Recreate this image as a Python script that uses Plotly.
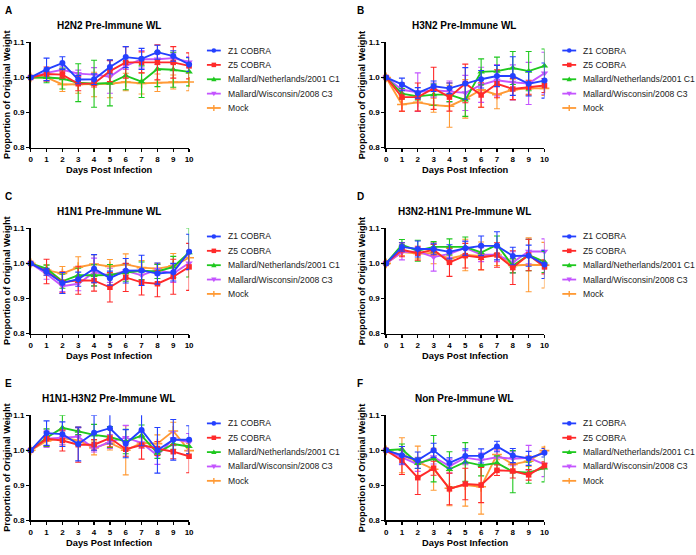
import plotly.graph_objects as go

W, H = 696, 555

DAYS = [0, 1, 2, 3, 4, 5, 6, 7, 8, 9, 10]
SERIES = ["Z1 COBRA", "Z5 COBRA", "Mallard/Netherlands/2001 C1",
          "Mallard/Wisconsin/2008 C3", "Mock"]
PANEL_TITLES = ["H2N2 Pre-Immune WL", "H3N2 Pre-Immune WL", "H1N1 Pre-Immune WL",
                "H3N2-H1N1 Pre-Immune WL", "H1N1-H3N2 Pre-Immune WL", "Non Pre-Immune WL"]
PANEL_LETTERS = ["A", "B", "C", "D", "E", "F"]
Y_TICKS = [0.8, 0.9, 1.0, 1.1]
Y_TICK_LABELS = ["0.8", "0.9", "1.0", "1.1"]
X_TICK_LABELS = ["0", "1", "2", "3", "4", "5", "6", "7", "8", "9", "10"]
X_TITLE = "Days Post Infection"
Y_TITLE = "Proportion of Original Weight"

# ---- Panel A: H2N2 ----
A_Z1 = [1.0, 1.023, 1.041, 0.994, 0.995, 1.030, 1.058, 1.053, 1.072, 1.061, 1.037]
A_Z1_ERR = [0, 0.032, 0.018, 0.012, 0.015, 0.020, 0.030, 0.030, 0.020, 0.015, 0.020]
A_Z5 = [1.0, 1.010, 1.008, 0.982, 0.983, 1.018, 1.043, 1.043, 1.043, 1.043, 1.033]
A_Z5_ERR = [0, 0.020, 0.010, 0.020, 0.010, 0.030, 0.045, 0.030, 0.050, 0.045, 0.037]
A_NL = [1.0, 1.000, 0.997, 0.985, 0.982, 0.984, 1.005, 0.988, 1.024, 1.022, 1.016]
A_NL_ERR = [0, 0.015, 0.030, 0.054, 0.067, 0.065, 0.040, 0.045, 0.050, 0.050, 0.040]
A_WI = [1.0, 1.013, 1.022, 1.011, 1.008, 1.002, 1.033, 1.052, 1.052, 1.055, 1.044]
A_WI_ERR = [0, 0.010, 0.010, 0.010, 0.020, 0.047, 0.010, 0.025, 0.015, 0.015, 0.015]
A_MOCK = [1.0, 1.000, 0.980, 0.980, 0.980, 0.982, 0.987, 0.983, 0.985, 0.987, 0.987]
A_MOCK_ERR = [0, 0.010, 0.020, 0.025, 0.035, 0.040, 0.025, 0.030, 0.025, 0.020, 0.025]

# ---- Panel B: H3N2 ----
B_Z1 = [1.0, 0.980, 0.956, 0.975, 0.969, 0.983, 0.995, 1.004, 1.004, 0.982, 0.991]
B_Z1_ERR = [0, 0.018, 0.015, 0.015, 0.015, 0.045, 0.025, 0.030, 0.055, 0.035, 0.050]
B_Z5 = [1.0, 0.944, 0.944, 0.969, 0.944, 0.983, 0.950, 0.982, 0.967, 0.972, 0.977]
B_Z5_ERR = [0, 0.040, 0.040, 0.060, 0.040, 0.055, 0.035, 0.040, 0.030, 0.020, 0.020]
B_NL = [1.0, 0.954, 0.946, 0.951, 0.951, 0.936, 1.016, 1.018, 1.027, 1.018, 1.033]
B_NL_ERR = [0, 0.015, 0.010, 0.030, 0.020, 0.047, 0.037, 0.040, 0.047, 0.056, 0.048]
B_WI = [1.0, 0.965, 0.958, 0.964, 0.960, 0.956, 0.979, 0.992, 0.986, 0.983, 1.012]
B_WI_ERR = [0, 0.010, 0.055, 0.020, 0.030, 0.050, 0.050, 0.045, 0.050, 0.060, 0.060]
B_MOCK = [1.0, 0.923, 0.929, 0.921, 0.918, 0.939, 0.965, 0.951, 0.965, 0.969, 0.969]
B_MOCK_ERR = [0, 0.020, 0.025, 0.020, 0.060, 0.055, 0.050, 0.040, 0.030, 0.020, 0.020]

# ---- Panel C: H1N1 ----
C_Z1 = [1.0, 0.976, 0.944, 0.955, 0.985, 0.958, 0.979, 0.980, 0.971, 0.975, 1.033]
C_Z1_ERR = [0, 0.010, 0.030, 0.020, 0.040, 0.020, 0.035, 0.043, 0.030, 0.025, 0.050]
C_Z5 = [1.0, 0.977, 0.946, 0.952, 0.951, 0.932, 0.960, 0.946, 0.942, 0.962, 0.990]
C_Z5_ERR = [0, 0.035, 0.030, 0.040, 0.030, 0.042, 0.040, 0.036, 0.037, 0.050, 0.067]
C_NL = [1.0, 0.985, 0.949, 0.966, 0.966, 0.967, 0.974, 0.979, 0.977, 0.990, 1.031]
C_NL_ERR = [0, 0.010, 0.020, 0.020, 0.030, 0.030, 0.025, 0.025, 0.020, 0.030, 0.070]
C_WI = [1.0, 0.970, 0.935, 0.942, 0.975, 0.966, 0.979, 0.966, 0.982, 0.971, 1.001]
C_WI_ERR = [0, 0.015, 0.015, 0.020, 0.040, 0.020, 0.020, 0.015, 0.015, 0.025, 0.020]
C_MOCK = [1.0, 0.981, 0.971, 0.989, 0.998, 0.991, 0.997, 0.988, 0.985, 0.993, 1.016]
C_MOCK_ERR = [0, 0.015, 0.020, 0.030, 0.027, 0.020, 0.030, 0.020, 0.015, 0.035, 0.020]

# ---- Panel D: H3N2-H1N1 ----
D_Z1 = [1.0, 1.047, 1.041, 1.041, 1.033, 1.043, 1.050, 1.050, 1.021, 1.022, 0.997]
D_Z1_ERR = [0, 0.012, 0.023, 0.015, 0.020, 0.020, 0.028, 0.040, 0.025, 0.030, 0.040]
D_Z5 = [1.0, 1.039, 1.029, 1.039, 1.003, 1.022, 1.017, 1.024, 0.988, 1.024, 0.990]
D_Z5_ERR = [0, 0.020, 0.020, 0.015, 0.040, 0.035, 0.035, 0.035, 0.048, 0.045, 0.020]
D_NL = [1.0, 1.053, 1.036, 1.047, 1.047, 1.047, 1.031, 1.053, 0.993, 1.024, 1.004]
D_NL_ERR = [0, 0.015, 0.030, 0.015, 0.023, 0.028, 0.020, 0.025, 0.020, 0.045, 0.030]
D_WI = [1.0, 1.032, 1.034, 1.018, 1.027, 1.044, 1.025, 1.025, 1.003, 1.034, 1.034]
D_WI_ERR = [0, 0.022, 0.010, 0.040, 0.010, 0.020, 0.020, 0.020, 0.030, 0.035, 0.036]
D_MOCK = [1.0, 1.032, 1.028, 1.029, 1.014, 1.024, 1.021, 1.024, 0.994, 0.996, 0.995]
D_MOCK_ERR = [0, 0.010, 0.015, 0.030, 0.010, 0.045, 0.040, 0.030, 0.020, 0.077, 0.065]

# ---- Panel E: H1N1-H3N2 ----
E_Z1 = [1.0, 1.049, 1.046, 1.018, 1.050, 1.063, 1.019, 1.058, 1.000, 1.030, 1.030]
E_Z1_ERR = [0, 0.035, 0.035, 0.048, 0.050, 0.045, 0.040, 0.045, 0.065, 0.058, 0.040]
E_Z5 = [1.0, 1.033, 1.028, 1.016, 1.016, 1.035, 1.003, 1.015, 1.005, 0.996, 0.983]
E_Z5_ERR = [0, 0.020, 0.030, 0.050, 0.015, 0.025, 0.020, 0.040, 0.020, 0.020, 0.047]
E_NL = [1.0, 1.036, 1.064, 1.055, 1.044, 1.038, 1.025, 1.042, 0.992, 1.018, 1.011]
E_NL_ERR = [0, 0.025, 0.036, 0.010, 0.030, 0.030, 0.035, 0.030, 0.015, 0.015, 0.020]
E_WI = [1.0, 1.033, 1.036, 1.039, 1.005, 1.025, 1.036, 1.021, 0.985, 1.033, 1.023]
E_WI_ERR = [0, 0.025, 0.020, 0.025, 0.010, 0.020, 0.035, 0.015, 0.025, 0.020, 0.025]
E_MOCK = [1.0, 1.027, 1.035, 1.028, 1.007, 1.021, 1.000, 1.021, 1.019, 1.055, 0.999]
E_MOCK_ERR = [0, 0.015, 0.020, 0.015, 0.020, 0.020, 0.070, 0.015, 0.025, 0.025, 0.020]

# ---- Panel F: Non Pre-Immune ----
F_Z1 = [1.0, 0.986, 0.972, 1.000, 0.964, 0.984, 0.984, 1.011, 0.985, 0.977, 0.993]
F_Z1_ERR = [0, 0.025, 0.023, 0.020, 0.015, 0.020, 0.020, 0.015, 0.020, 0.020, 0.012]
F_Z5 = [1.0, 0.971, 0.922, 0.949, 0.890, 0.904, 0.901, 0.943, 0.941, 0.930, 0.957]
F_Z5_ERR = [0, 0.040, 0.048, 0.020, 0.045, 0.045, 0.050, 0.015, 0.020, 0.015, 0.010]
F_NL = [1.0, 1.003, 0.963, 0.976, 0.946, 0.967, 0.957, 0.964, 0.939, 0.936, 0.950]
F_NL_ERR = [0, 0.015, 0.015, 0.066, 0.050, 0.055, 0.030, 0.020, 0.060, 0.030, 0.040]
F_WI = [1.0, 0.979, 0.960, 0.981, 0.955, 0.979, 0.972, 0.980, 0.976, 0.979, 0.960]
F_WI_ERR = [0, 0.020, 0.020, 0.020, 0.020, 0.020, 0.020, 0.020, 0.020, 0.035, 0.035]
F_MOCK = [1.0, 0.986, 0.967, 0.946, 0.892, 0.901, 0.896, 0.988, 0.960, 0.969, 0.999]
F_MOCK_ERR = [0, 0.050, 0.045, 0.060, 0.050, 0.060, 0.078, 0.015, 0.020, 0.015, 0.010]

PANELS = [
    [(A_Z1, A_Z1_ERR), (A_Z5, A_Z5_ERR), (A_NL, A_NL_ERR), (A_WI, A_WI_ERR), (A_MOCK, A_MOCK_ERR)],
    [(B_Z1, B_Z1_ERR), (B_Z5, B_Z5_ERR), (B_NL, B_NL_ERR), (B_WI, B_WI_ERR), (B_MOCK, B_MOCK_ERR)],
    [(C_Z1, C_Z1_ERR), (C_Z5, C_Z5_ERR), (C_NL, C_NL_ERR), (C_WI, C_WI_ERR), (C_MOCK, C_MOCK_ERR)],
    [(D_Z1, D_Z1_ERR), (D_Z5, D_Z5_ERR), (D_NL, D_NL_ERR), (D_WI, D_WI_ERR), (D_MOCK, D_MOCK_ERR)],
    [(E_Z1, E_Z1_ERR), (E_Z5, E_Z5_ERR), (E_NL, E_NL_ERR), (E_WI, E_WI_ERR), (E_MOCK, E_MOCK_ERR)],
    [(F_Z1, F_Z1_ERR), (F_Z5, F_Z5_ERR), (F_NL, F_NL_ERR), (F_WI, F_WI_ERR), (F_MOCK, F_MOCK_ERR)],
]

# ---- styling ----
COLORS = ["#2440ff", "#ff2a2a", "#1fc81f", "#c455ff", "#ff9a35"]
SYMBOLS = ["circle", "square", "triangle-up", "triangle-down", "cross-thin"]
MSIZES = [6, 5.5, 6.5, 6.5, 7]
FONT = "Arial, Liberation Sans, sans-serif"

# panel geometry in pixels (axes box)
COL_X = [(29, 189), (388, 548)]
ROW_Y = [(39, 146), (228, 335), (418, 525)]


def px(x):
    return x / W


def py(y):
    return 1 - y / H


fig = go.Figure()
shapes = []
annotations = []

for p in range(6):
    col, row = p % 2, p // 2
    x0, x1 = COL_X[col]
    y0, y1 = ROW_Y[row]
    xa = "x" if p == 0 else f"x{p + 1}"
    ya = "y" if p == 0 else f"y{p + 1}"
    xkey = "xaxis" if p == 0 else f"xaxis{p + 1}"
    ykey = "yaxis" if p == 0 else f"yaxis{p + 1}"

    # traces drawn Mock first, Z1 last (Z1 on top)
    for s in reversed(range(5)):
        vals, err = PANELS[p][s]
        mk = dict(symbol=SYMBOLS[s], size=MSIZES[s], color=COLORS[s])
        if SYMBOLS[s] == "cross-thin":
            mk["line"] = dict(color=COLORS[s], width=1.6)
        else:
            mk["line"] = dict(width=0)
        fig.add_trace(go.Scatter(
            x=DAYS, y=vals, name=SERIES[s], mode="lines+markers",
            line=dict(color=COLORS[s], width=1.9),
            marker=mk,
            error_y=dict(type="data", array=err, visible=True,
                         color=COLORS[s], thickness=1.1, width=3),
            showlegend=False, cliponaxis=False,
            xaxis=xa, yaxis=ya,
        ))

    axis_common = dict(
        showline=True, linecolor="black", linewidth=1.7, mirror=False,
        showgrid=False, zeroline=False, ticks="outside", ticklen=3,
        tickwidth=1.4, tickcolor="black",
        tickfont=dict(family=FONT, size=8, color="black", weight="bold"),
    )
    fig.update_layout({
        xkey: dict(axis_common, domain=[px(x0), px(x1)], anchor=ya,
                   range=[0, 10], tickmode="array", tickvals=DAYS,
                   ticktext=X_TICK_LABELS),
        ykey: dict(axis_common, domain=[py(y1), py(y0)], anchor=xa,
                   range=[0.8, 1.1], tickmode="array", tickvals=Y_TICKS,
                   ticktext=Y_TICK_LABELS),
    })

    cx = (x0 + x1) / 2
    # panel letter
    annotations.append(dict(
        text=PANEL_LETTERS[p], xref="paper", yref="paper",
        x=px(x0 - 28 if col == 0 else x0 - 31), y=py(y0 - 32),
        xanchor="left", yanchor="middle", showarrow=False,
        font=dict(family=FONT, size=10, color="black", weight="bold")))
    # panel title
    annotations.append(dict(
        text=PANEL_TITLES[p], xref="paper", yref="paper",
        x=px(cx - 1), y=py(y0 - 17), xanchor="center", yanchor="middle",
        showarrow=False,
        font=dict(family=FONT, size=10, color="black", weight="bold")))
    # x axis title
    annotations.append(dict(
        text=X_TITLE, xref="paper", yref="paper",
        x=px(cx), y=py(y1 + 23), xanchor="center", yanchor="middle",
        showarrow=False,
        font=dict(family=FONT, size=9.3, color="black", weight="bold")))
    # y axis title
    annotations.append(dict(
        text=Y_TITLE, xref="paper", yref="paper",
        x=px(x0 - 24), y=py((y0 + y1) / 2), xanchor="center", yanchor="middle",
        textangle=-90, showarrow=False,
        font=dict(family=FONT, size=9.2, color="black", weight="bold")))

    # legend (drawn manually for compact spacing)
    lx0 = x1 + 18
    lx1 = lx0 + 14
    mx = (lx0 + lx1) / 2
    tx = lx1 + 5
    offs = [8.3, 22.9, 37.5, 52.1, 66.7]
    for s in range(5):
        yy = y0 + offs[s]
        c = COLORS[s]
        shapes.append(dict(type="line", xref="paper", yref="paper",
                           x0=px(lx0), x1=px(lx1), y0=py(yy), y1=py(yy),
                           line=dict(color=c, width=1.8)))
        r = 2.3
        if s == 0:
            shapes.append(dict(type="circle", xref="paper", yref="paper",
                               x0=px(mx - r), x1=px(mx + r), y0=py(yy + r), y1=py(yy - r),
                               fillcolor=c, line=dict(width=0)))
        elif s == 1:
            shapes.append(dict(type="rect", xref="paper", yref="paper",
                               x0=px(mx - r), x1=px(mx + r), y0=py(yy + r), y1=py(yy - r),
                               fillcolor=c, line=dict(width=0)))
        elif s == 2:
            path = (f"M {px(mx - 2.7)},{py(yy + 2)} L {px(mx + 2.7)},{py(yy + 2)} "
                    f"L {px(mx)},{py(yy - 2.7)} Z")
            shapes.append(dict(type="path", xref="paper", yref="paper", path=path,
                               fillcolor=c, line=dict(width=0)))
        elif s == 3:
            path = (f"M {px(mx - 2.7)},{py(yy - 2)} L {px(mx + 2.7)},{py(yy - 2)} "
                    f"L {px(mx)},{py(yy + 2.7)} Z")
            shapes.append(dict(type="path", xref="paper", yref="paper", path=path,
                               fillcolor=c, line=dict(width=0)))
        else:
            shapes.append(dict(type="line", xref="paper", yref="paper",
                               x0=px(mx), x1=px(mx), y0=py(yy - 3), y1=py(yy + 3),
                               line=dict(color=c, width=1.4)))
        annotations.append(dict(
            text=SERIES[s], xref="paper", yref="paper",
            x=px(tx), y=py(yy), xanchor="left", yanchor="middle",
            showarrow=False,
            font=dict(family=FONT, size=8.6, color="#1a1a1a")))

fig.update_layout(
    width=W, height=H, margin=dict(l=0, r=0, t=0, b=0),
    paper_bgcolor="white", plot_bgcolor="white",
    showlegend=False, shapes=shapes, annotations=annotations,
)

fig.write_html(
    "out.html",
    config={"displayModeBar": False, "staticPlot": True},
    post_script="document.body.style.margin='0';document.body.style.padding='0';",
)
